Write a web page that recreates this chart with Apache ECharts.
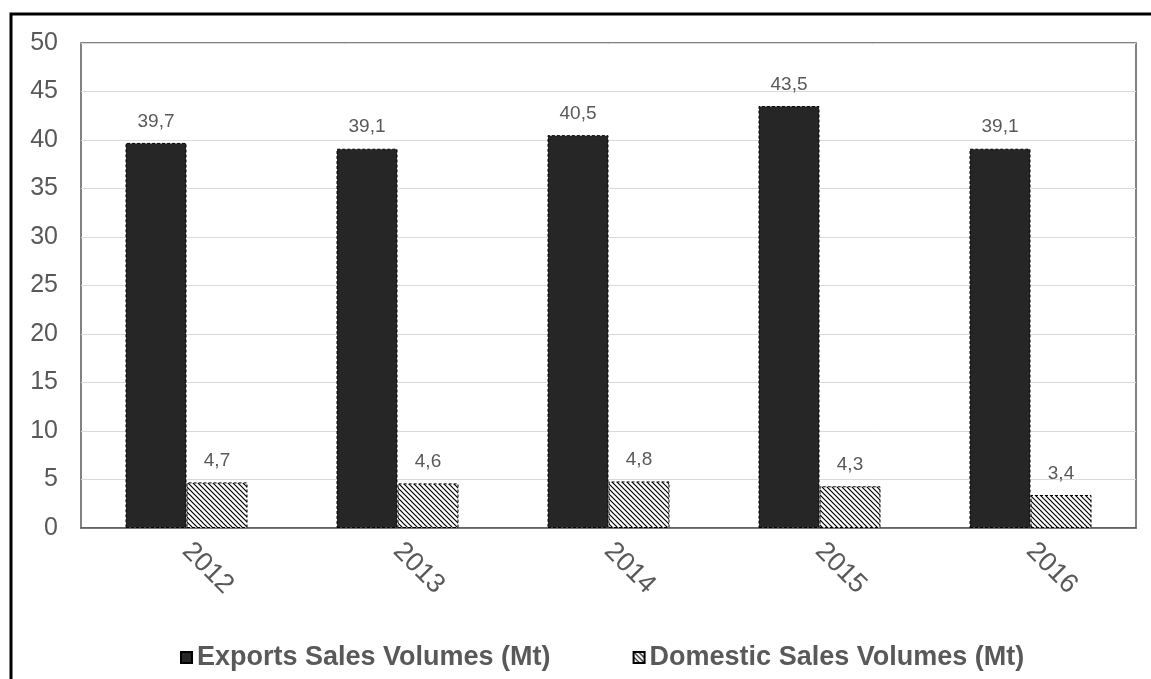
<!DOCTYPE html>
<html>
<head>
<meta charset="utf-8">
<script src="https://cdn.jsdelivr.net/npm/echarts@6/dist/echarts.min.js"></script>
<style>
  html, body { margin: 0; padding: 0; background: #fff; }
  #chart { width: 1151px; height: 679px; }
</style>
</head>
<body>
<div id="chart"></div>
<script>
// Sales volumes by year (million tonnes)
const years = ['2012', '2013', '2014', '2015', '2016'];
const exportsSales = [39.7, 39.1, 40.5, 43.5, 39.1];
const domesticSales = [4.7, 4.6, 4.8, 4.3, 3.4];
const seriesNames = ['Exports Sales Volumes (Mt)', 'Domestic Sales Volumes (Mt)'];

// Diagonal hatch fill for the domestic series
function hatchPattern() {
  const size = 5;
  const c = document.createElement('canvas');
  c.width = size; c.height = size;
  const ctx = c.getContext('2d');
  ctx.fillStyle = '#fff';
  ctx.fillRect(0, 0, size, size);
  ctx.strokeStyle = '#000';
  ctx.lineWidth = 1.2;
  ctx.beginPath();
  ctx.moveTo(-1, -1); ctx.lineTo(size + 1, size + 1);
  ctx.moveTo(-1, size - 1); ctx.lineTo(1, size + 1);
  ctx.moveTo(size - 1, -1); ctx.lineTo(size + 1, 1);
  ctx.stroke();
  return c;
}

const comma = v => String(v).replace('.', ',');
const font = 'Liberation Sans, Arial, sans-serif';
const chart = echarts.init(document.getElementById('chart'));

const labelStyle = {
  show: true, position: 'top', distance: 12,
  color: '#595959', fontSize: 19, fontFamily: font,
  formatter: p => comma(p.value)
};

chart.setOption({
  animation: false,
  backgroundColor: '#fff',
  graphic: [{
    type: 'rect',
    shape: { x: 11, y: 14, width: 1200, height: 700 },
    style: { fill: 'none', stroke: '#000', lineWidth: 3 },
    z: 100
  }],
  grid: { left: 81, right: 15, top: 43, bottom: 151, show: true, borderColor: '#595959', borderWidth: 1.5 },
  legend: {
    bottom: 3,
    left: 175,
    icon: 'rect',
    itemWidth: 11,
    itemHeight: 11,
    itemGap: 82,
    textStyle: { color: '#595959', fontSize: 27, fontWeight: 'bold', fontFamily: font },
    data: seriesNames
  },
  xAxis: {
    type: 'category',
    data: years,
    axisLine: { show: true, lineStyle: { color: '#595959', width: 1.5 } },
    axisTick: { show: false },
    axisLabel: { rotate: -45, color: '#595959', fontSize: 27, margin: 19, fontFamily: font }
  },
  yAxis: {
    type: 'value',
    min: 0, max: 50, interval: 5,
    axisLine: { show: false },
    axisTick: { show: false },
    splitLine: { lineStyle: { color: '#d9d9d9', width: 1 } },
    axisLabel: { color: '#595959', fontSize: 25, margin: 23, fontFamily: font }
  },
  series: [
    {
      name: seriesNames[0],
      type: 'bar',
      data: exportsSales,
      barWidth: 61,
      barGap: '0%',
      itemStyle: { color: '#262626', borderColor: '#000', borderWidth: 1, borderType: [3, 2] },
      label: labelStyle
    },
    {
      name: seriesNames[1],
      type: 'bar',
      data: domesticSales,
      barWidth: 61,
      itemStyle: { color: { image: hatchPattern(), repeat: 'repeat' }, borderColor: '#000', borderWidth: 1, borderType: [3, 2] },
      label: labelStyle
    }
  ]
});
</script>
</body>
</html>
